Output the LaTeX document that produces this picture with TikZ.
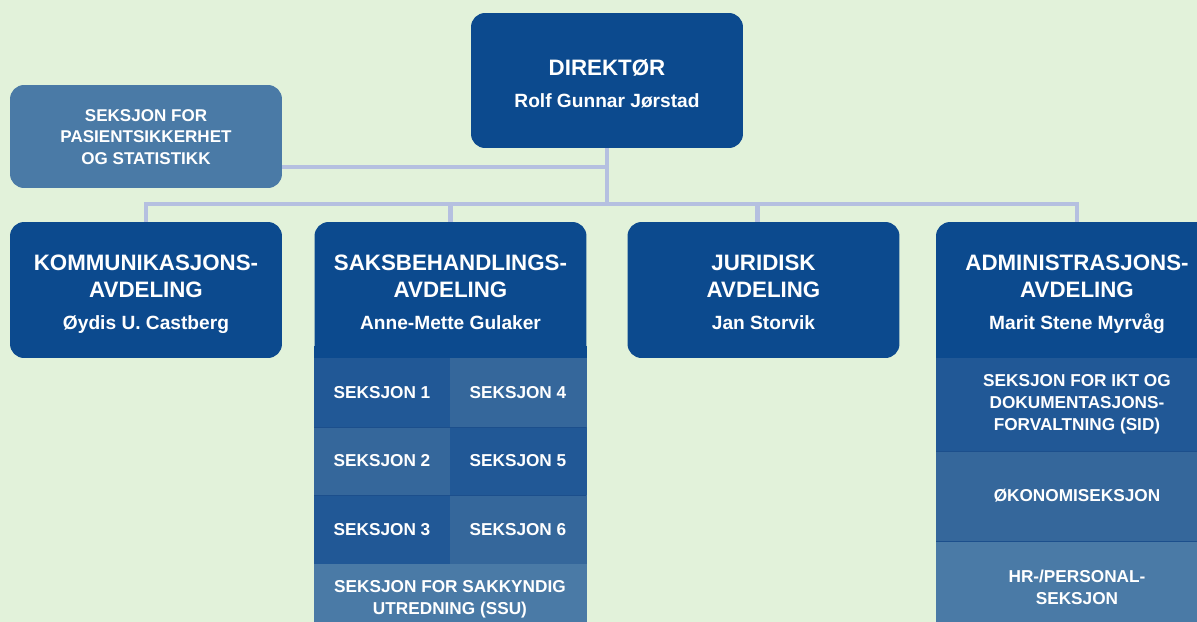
\documentclass[tikz,border=0pt]{standalone}
\usepackage{fontspec}
\setmainfont{Liberation Sans}
\usetikzlibrary{calc, positioning}

\definecolor{bggreen}{HTML}{E2F2DA}
\definecolor{dirblue}{HTML}{0C4A8E}
\definecolor{secdark}{HTML}{215896}
\definecolor{secmid}{HTML}{35679B}
\definecolor{seclight}{HTML}{4A7AA6}
\definecolor{linkblue}{HTML}{B5C0E0}
\definecolor{sepblue}{HTML}{1C4F8C}

\newcommand{\nfont}{\fontsize{10.9}{13}\selectfont}

\tikzset{
  unit/.style={fill=dirblue, rounded corners=8, inner sep=0pt,
    minimum width=5.44cm, minimum height=2.72cm},
  unittext/.style={text=white, align=center, inner sep=0pt,
    font=\fontsize{12.7}{15.3}\selectfont\bfseries},
  cell/.style={text=white, align=center, inner sep=0pt, outer sep=0pt,
    line width=0.3pt, font=\fontsize{9.8}{12.4}\selectfont\bfseries,
    minimum width=2.72cm, minimum height=1.38cm},
  darkcell/.style={cell, fill=secdark, draw=secdark},
  midcell/.style={cell, fill=secmid, draw=secmid},
  lightcell/.style={cell, fill=seclight, draw=seclight},
  link/.style={draw=linkblue, line width=2.8pt},
  sep/.style={draw=sepblue, line width=0.5pt}
}

\begin{document}
\begin{tikzpicture}[x=0.02cm, y=-0.02cm]
\useasboundingbox (0,0) rectangle (1197,622);
\clip (0,0) rectangle (1197,622);
\fill[bggreen] (0,0) rectangle (1197,622);
% Boxes
\node[unit, minimum height=2.70cm] (dir) at (607,80.5) {};
\node[unit, fill=seclight, minimum height=2.06cm] (pas) at (146,136.5) {};
\node[unit] (kom) at (146,290) {};
\node[unit] (saks) at (450.5,290) {};
\node[unit] (jur) at (763.5,290) {};
\node[unit, minimum width=5.64cm] (adm) at (1077,290) {};
% Square off the bottom corners
\fill[dirblue] ([yshift=0.25cm]saks.south west) rectangle (saks.south east);
\fill[dirblue] ([yshift=0.25cm]adm.south west) rectangle (adm.south east);
% Connectors
\coordinate (hub) at (607,204);
\coordinate (mid) at (607,167);
\draw[link] (dir.south) -- (hub);
\draw[link] (pas.east |- mid) -- (mid);
\draw[link] (kom.north) |- (adm.north |- hub) -- (adm.north);
\draw[link] (saks.north) -- (saks.north |- hub);
\draw[link] ([xshift=-0.12cm]jur.north) -- ([xshift=-0.12cm]jur.north |- hub);
% Texts
\node[unittext] (dir-t) at (607,83.5) {DIREKTØR\\[2.8pt]\nfont Rolf Gunnar Jørstad};
\node[unittext, font=\fontsize{9.7}{12.2}\selectfont\bfseries] (pas-t) at (146,137)
  {SEKSJON FOR\\PASIENTSIKKERHET\\OG STATISTIKK};
\node[unittext] (kom-t) at (146,294)
  {KOMMUNIKASJONS-\\AVDELING\\[2.8pt]\nfont Øydis U. Castberg};
\node[unittext] (saks-t) at (450.5,292.5)
  {SAKSBEHANDLINGS-\\AVDELING\\[2.8pt]\nfont Anne-Mette Gulaker};
\node[unittext] (jur-t) at (763.5,292.5)
  {JURIDISK\\AVDELING\\[2.8pt]\nfont Jan Storvik};
\node[unittext] (adm-t) at (1077,294)
  {ADMINISTRASJONS-\\AVDELING\\[2.8pt]\nfont Marit Stene Myrvåg};
% Sections under Saksbehandlingsavdeling
\node[darkcell, anchor=north west] (s1) at (314,358) {SEKSJON 1};
\node[midcell, right=0pt of s1] (s4) {SEKSJON 4};
\node[midcell, below=0pt of s1, minimum height=1.36cm] (s2) {SEKSJON 2};
\node[darkcell, right=0pt of s2, minimum height=1.36cm] (s5) {SEKSJON 5};
\node[darkcell, below=0pt of s2] (s3) {SEKSJON 3};
\node[midcell, right=0pt of s3] (s6) {SEKSJON 6};
\node[lightcell, anchor=north west, minimum width=5.44cm, minimum height=1.4cm]
  (ssu) at (s3.south west) {SEKSJON FOR SAKKYNDIG\\UTREDNING (SSU)};
\draw[sep] (s2.north west) -- (s5.north east);
\draw[sep] (s3.north west) -- (s6.north east);
% Sections under Administrasjonsavdeling
\node[darkcell, anchor=north west, minimum width=5.64cm, minimum height=1.86cm] (sid) at (936,358)
  {SEKSJON FOR IKT OG\\DOKUMENTASJONS-\\FORVALTNING (SID)};
\node[midcell, below=0pt of sid, minimum width=5.64cm, minimum height=1.80cm] (oko) {ØKONOMISEKSJON};
\node[lightcell, below=0pt of oko, minimum width=5.64cm, minimum height=1.86cm] (hr)
  {HR-/PERSONAL-\\SEKSJON};
\draw[sep] (oko.north west) -- (oko.north east);
\draw[sep] (hr.north west) -- (hr.north east);
\end{tikzpicture}
\end{document}
